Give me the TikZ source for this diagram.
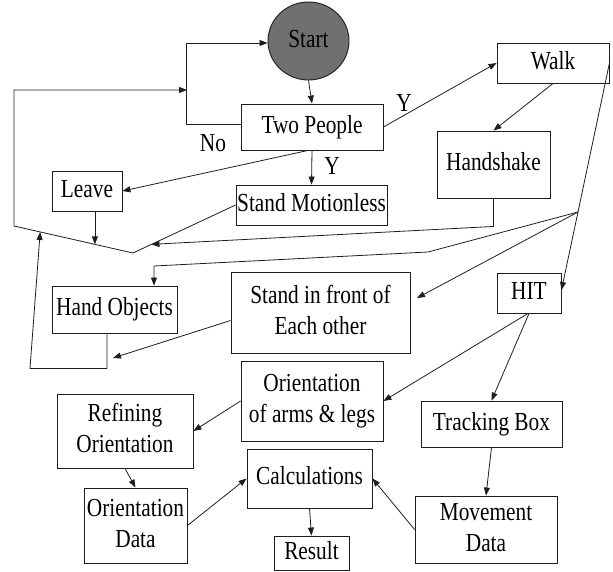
\documentclass[tikz,border=0pt]{standalone}
\usepackage{fontspec}
\usepackage{graphicx}
\setmainfont{DejaVu Serif}
\newfontfamily\timesf{Liberation Serif}
\usetikzlibrary{arrows.meta,calc,shapes.geometric}
\definecolor{startgray}{RGB}{112,112,112}
\definecolor{linegray}{RGB}{30,30,30}
\newcommand{\sqz}[1]{\scalebox{0.82}[1]{\begin{tabular}{@{}c@{}}#1\end{tabular}}}
\begin{document}
\begin{tikzpicture}[x=1pt,y=-1pt,
  txt/.style={font=\timesf\fontsize{26}{31}\selectfont, inner sep=0pt},
  box/.style={draw=linegray, line width=0.9pt, inner sep=0pt, align=center, txt},
  arr/.style={draw=linegray, line width=0.8pt, -{Triangle[length=8pt,width=6pt]}},
  ln/.style={draw=linegray, line width=0.8pt}]
\useasboundingbox (0,0) rectangle (613,571);
% nodes
\node[ellipse, draw=linegray, line width=0.9pt, fill=startgray, minimum width=81pt, minimum height=78pt, txt] (start) at (308.5,41) {\sqz{Start}};
\node[box, minimum width=142pt, minimum height=46pt] (tp) at (312,127) {\sqz{Two People}};
\node[box, minimum width=112pt, minimum height=40pt] (walk) at (553,63) {\sqz{Walk}};
\node[box, minimum width=113pt, minimum height=67pt] (hand) at (493.5,164.5) {\sqz{Handshake}};
\node[box, minimum width=70pt, minimum height=40pt] (leave) at (87,191) {\sqz{Leave}};
\node[box, minimum width=151pt, minimum height=40pt] (sm) at (311.5,205) {\sqz{Stand Motionless}};
\node[box, minimum width=125pt, minimum height=47pt] (ho) at (114.5,309.5) {\sqz{Hand Objects}};
\node[box, minimum width=179pt, minimum height=81pt] (sif) at (320.5,312.5) {\sqz{Stand in front of\\Each other}};
\node[box, minimum width=64pt, minimum height=40pt] (hit) at (529,293) {\sqz{HIT}};
\node[box, minimum width=142pt, minimum height=80pt] (oal) at (312,401) {\sqz{Orientation\\of arms \& legs}};
\node[box, minimum width=136pt, minimum height=74pt] (ro) at (125,431) {\sqz{Refining\\Orientation}};
\node[box, minimum width=141pt, minimum height=46pt] (tb) at (491.5,424) {\sqz{Tracking Box}};
\node[box, minimum width=125pt, minimum height=59pt] (calc) at (309.5,478.5) {\sqz{Calculations}};
\node[box, minimum width=103pt, minimum height=75pt] (od) at (135.5,525.5) {\sqz{Orientation\\Data}};
\node[box, minimum width=142pt, minimum height=67pt] (md) at (486,529.5) {\sqz{Movement\\Data}};
\node[box, minimum width=75pt, minimum height=34pt] (res) at (311.5,553) {\sqz{Result}};
% labels
\node[txt] (lno) at (213,145) {\sqz{No}};
\node[txt] (ly1) at (404,105) {\sqz{Y}};
\node[txt] (ly2) at (332,168) {\sqz{Y}};
% helper coordinates
\coordinate (vtx) at (133,253);
\coordinate (lt) at (14,226);
\coordinate (ltop) at (14,90);
\coordinate (lret) at (187,90);
\coordinate (la) at ($(lt)!0.68!(vtx)$);
\coordinate (hsa) at ($(vtx)!0.18!(sm.west)$);
\coordinate (hoa) at ($(lt)!0.22!(vtx)$);
\coordinate (br) at (578,212);
\coordinate (hob1) at (428,252);
\coordinate (hob2) at (154,266);
\coordinate (sifa) at (417,298);
\coordinate (sifb) at (113,358);
% connectors
\draw[arr] (start.south) -- (tp.north);
\draw[arr] ([yshift=3pt]tp.west) -- ++(-54,0) |- ([yshift=-2pt]start.west);
\draw[arr] (sm.west) -- (vtx) -- (lt) -- (ltop) -- (lret);
\draw[arr] (leave.south -| la) -- (la);
\draw[arr] (hand.south) -- ++(0,28) -- (hsa);
\draw[arr] ([xshift=-7.5pt]ho.south) -- ++(0,35) -- ++(-77,0) -- (hoa);
\draw[arr] ([yshift=-8pt]sif.west) -- (sifb);
\draw[arr] (tp.east) -- (walk.west);
\draw[arr] (tp.south) -- (sm.north);
\draw[arr] ([xshift=-4pt]tp.south) -- (leave.east);
\draw[arr] (walk.south) -- (hand.north);
\draw[arr] (walk.east) -- (br) -- ([yshift=3pt]hit.east);
\draw[arr] (br) -- (hob1) -- (hob2) -- (hob2 |- ho.north);
\draw[arr] (br) -- (sifa);
\draw[arr] ([xshift=-1pt]hit.south) -- (oal.east);
\draw[arr] (hit.south) -- (tb.north);
\draw[arr] (oal.west) -- (ro.east);
\draw[arr] (ro.south) -- (od.north);
\draw[arr] (od.east) -- (calc.west);
\draw[arr] (calc.south) -- (res.north);
\draw[arr] (tb.south) -- (md.north);
\draw[arr] (md.west) -- (calc.east);
\end{tikzpicture}
\end{document}
